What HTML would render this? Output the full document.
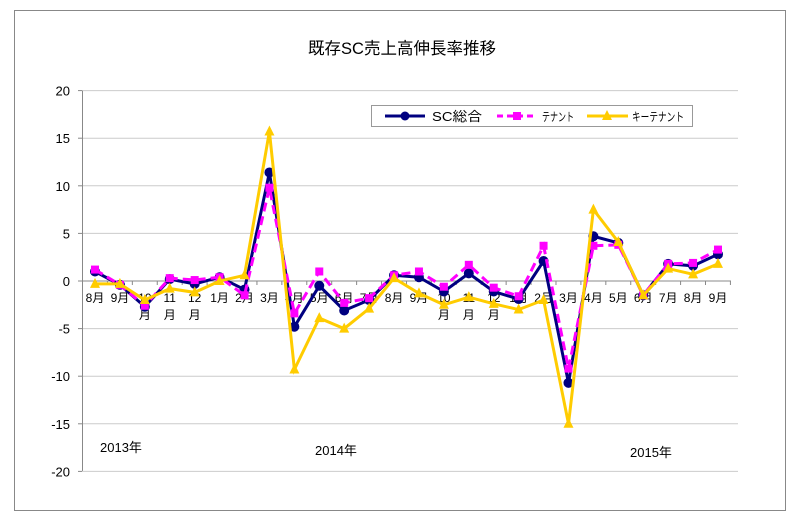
<!DOCTYPE html>
<html><head><meta charset="utf-8"><style>
html,body{margin:0;padding:0;background:#fff;}
svg{display:block;font-family:"Liberation Sans","Noto Sans CJK JP",sans-serif;}
</style></head><body>
<svg id="c" width="802" height="527" xmlns="http://www.w3.org/2000/svg"></svg>
<script>
var s=document.getElementById('c');var h='';
h+='<rect x="0" y="0" width="802" height="527" fill="#fff"/>';
h+='<rect x="14.5" y="10.5" width="771" height="500" fill="none" stroke="#888" stroke-width="1"/>';
h+='<text x="402" y="54" font-size="16.5" text-anchor="middle">既存SC売上高伸長率推移</text>';
function Y(v){return 281-v*9.52;}
for(var v=-20;v<=20;v+=5){var y=Y(v);
 if(v!=0&&v!=-20)h+='<line x1="82" x2="738" y1="'+y+'" y2="'+y+'" stroke="#ccc" stroke-width="1"/>';
 h+='<line x1="78" x2="82" y1="'+y+'" y2="'+y+'" stroke="#888"/>';
 h+='<text x="70" y="'+(y+5)+'" font-size="13" text-anchor="end">'+v+'</text>';}
h+='<line x1="82.5" x2="82.5" y1="'+Y(20)+'" y2="'+Y(-20)+'" stroke="#888"/>';
h+='<line x1="82" x2="738" y1="'+Y(-20)+'" y2="'+Y(-20)+'" stroke="#ccc"/>';
h+='<line x1="82" x2="731" y1="281" y2="281" stroke="#888"/>';
var dx=24.92,x0=95;
for(var i=0;i<=26;i++){var x=82.5+i*dx;h+='<line x1="'+x+'" x2="'+x+'" y1="281" y2="285" stroke="#888"/>';}
var m=['8','9','10','11','12','1','2','3','4','5','6','7','8','9','10','11','12','1','2','3','4','5','6','7','8','9'];
for(var i=0;i<26;i++){var x=x0+i*dx;
 if(m[i].length==2){h+='<text x="'+x+'" y="302" font-size="12" text-anchor="middle">'+m[i]+'</text><text x="'+x+'" y="319" font-size="12" text-anchor="middle">月</text>';}
 else h+='<text x="'+x+'" y="302" font-size="12" text-anchor="middle">'+m[i]+'月</text>';}
h+='<text x="100" y="452" font-size="13">2013年</text><text x="315" y="455" font-size="13">2014年</text><text x="630" y="457" font-size="13">2015年</text>';
var A=[1.0,-0.4,-2.7,0.2,-0.3,0.4,-0.9,11.4,-4.8,-0.5,-3.1,-2.0,0.6,0.4,-1.1,0.8,-1.1,-1.9,2.1,-10.7,4.7,4.0,-1.5,1.8,1.6,2.8];
var B=[1.2,-0.4,-2.6,0.3,0.1,0.4,-1.5,9.8,-3.4,1.0,-2.3,-1.8,0.6,1.0,-0.6,1.7,-0.7,-1.6,3.7,-9.2,3.7,3.8,-1.5,1.8,1.9,3.3];
var C=[-0.3,-0.3,-2.0,-0.8,-1.2,0,0.6,15.7,-9.3,-3.9,-5.0,-2.9,0.3,-1.3,-2.5,-1.7,-2.4,-3.0,-2.0,-15,7.5,4.1,-1.5,1.3,0.7,1.8];
function pts(d){return d.map(function(v,i){return (x0+i*dx).toFixed(1)+','+Y(v).toFixed(1);}).join(' ');}
h+='<polyline points="'+pts(A)+'" fill="none" stroke="#000080" stroke-width="3"/>';
A.forEach(function(v,i){h+='<circle cx="'+(x0+i*dx)+'" cy="'+Y(v)+'" r="5" fill="#000080"/>';});
h+='<polyline points="'+pts(B)+'" fill="none" stroke="#ff00ff" stroke-width="3" stroke-dasharray="9,5"/>';
B.forEach(function(v,i){h+='<rect x="'+(x0+i*dx-4)+'" y="'+(Y(v)-4)+'" width="8" height="8" fill="#ff00ff"/>';});
h+='<polyline points="'+pts(C)+'" fill="none" stroke="#ffcc00" stroke-width="3"/>';
C.forEach(function(v,i){var x=x0+i*dx,y=Y(v);h+='<polygon points="'+x+','+(y-6)+' '+(x+5)+','+(y+4)+' '+(x-5)+','+(y+4)+'" fill="#ffcc00"/>';});
// legend
h+='<rect x="371.5" y="105.5" width="321" height="21" fill="#fff" stroke="#999"/>';
h+='<line x1="385" x2="425" y1="116" y2="116" stroke="#000080" stroke-width="3"/><circle cx="405" cy="116" r="4.5" fill="#000080"/>';
h+='<text x="432" y="121" font-size="13" textLength="50" lengthAdjust="spacingAndGlyphs">SC総合</text>';
h+='<line x1="497" x2="537" y1="116" y2="116" stroke="#ff00ff" stroke-width="3" stroke-dasharray="6,4"/><rect x="513" y="112" width="8" height="8" fill="#ff00ff"/>';
h+='<text x="542" y="121" font-size="12" textLength="32" lengthAdjust="spacingAndGlyphs">テナント</text>';
h+='<line x1="587" x2="628" y1="116" y2="116" stroke="#ffcc00" stroke-width="3"/><polygon points="607,110 612,120 602,120" fill="#ffcc00"/>';
h+='<text x="632" y="121" font-size="12" textLength="52" lengthAdjust="spacingAndGlyphs">キーテナント</text>';
s.innerHTML=h;
</script>
</body></html>
